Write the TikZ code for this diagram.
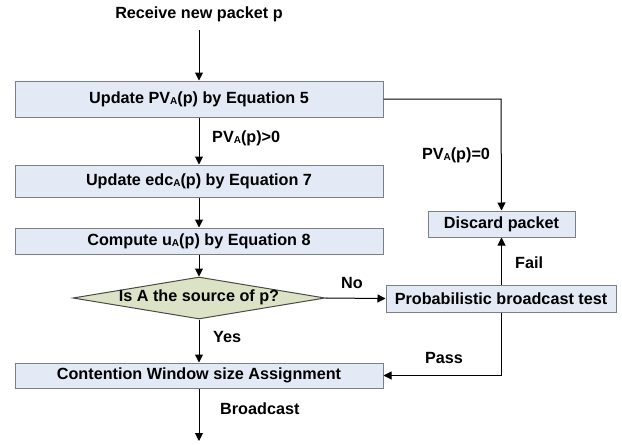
\documentclass[tikz,border=0pt]{standalone}
\usepackage{fontspec}
\setmainfont{Liberation Sans}
\usetikzlibrary{shapes.geometric,arrows.meta}
\definecolor{boxfill}{HTML}{E3E9F5}
\definecolor{boxline}{HTML}{7A7F88}
\definecolor{diafill}{HTML}{DCE2C6}
\definecolor{dialine}{HTML}{4A4A44}
\newcommand{\sbA}{\raisebox{-0.2ex}{\fontsize{10}{10}\selectfont A}}
\begin{document}
\begin{tikzpicture}[x=1pt,y=-1pt,
  every node/.style={font=\fontsize{16.2}{18}\selectfont\bfseries, inner sep=0pt},
  procbox/.style={draw=boxline, line width=1pt, fill=boxfill, rectangle, anchor=center},
  decbox/.style={draw=dialine, line width=1pt, fill=diafill, diamond, aspect=6, anchor=center},
  conn/.style={draw=black, line width=1pt, -{Triangle[length=8pt,width=8pt]}},
  lbl/.style={anchor=center}]
\useasboundingbox (0,0) rectangle (622,445);
\node[lbl] (recv) at (199,14) {Receive new packet p};
\node[procbox, minimum width=368pt, minimum height=36pt] (b1) at (199,99) {Update PV\sbA(p) by Equation 5};
\node[procbox, minimum width=368pt, minimum height=32pt] (b2) at (199,181) {Update edc\sbA(p) by Equation 7};
\node[procbox, minimum width=368pt, minimum height=26pt] (b3) at (199,241) {Compute u\sbA(p) by Equation 8};
\node[decbox, minimum width=252pt, minimum height=42pt] (dec) at (199,298) {};
\node[lbl] (dectext) at (199,297) {Is A the source of p?};
\node[procbox, minimum width=368pt, minimum height=25pt] (b4) at (199,375.5) {Contention Window size Assignment};
\node[procbox, minimum width=147pt, minimum height=26pt] (disc) at (501.5,224) {Discard packet};
\node[procbox, minimum width=230pt, minimum height=27pt] (pbt) at (501,298.5) {Probabilistic broadcast test};
\coordinate (start) at (199,30);
\coordinate (stop) at (199,441);
\coordinate (corner1) at (501,99);
\coordinate (corner2) at (501,375.5);
\draw[conn] (start) -- (b1.north);
\draw[conn] (b1.south) -- (b2.north);
\draw[conn] (b2.south) -- (b3.north);
\draw[conn] (b3.south) -- (dec.north);
\draw[conn] (dec.south) -- (b4.north);
\draw[conn] (b4.south) -- (stop);
\draw[conn] (dec.east) -- (pbt.west);
\draw[conn] (b1.east) -- (corner1) -- (disc.north);
\draw[conn] (pbt.north -| disc.south) -- (disc.south);
\draw[conn] (pbt.south -| corner2) -- (corner2) -- (b4.east);
\node[anchor=west] (l1) at (212,138) {PV\sbA(p)>0};
\node[lbl] (l2) at (456,155) {PV\sbA(p)=0};
\node[lbl] (l3) at (352,283) {No};
\node[anchor=west] (l4) at (213,337) {Yes};
\node[anchor=west] (l5) at (220,409) {Broadcast};
\node[anchor=west] (l6) at (515,263) {Fail};
\node[lbl] (l7) at (444,358) {Pass};
\end{tikzpicture}
\end{document}
